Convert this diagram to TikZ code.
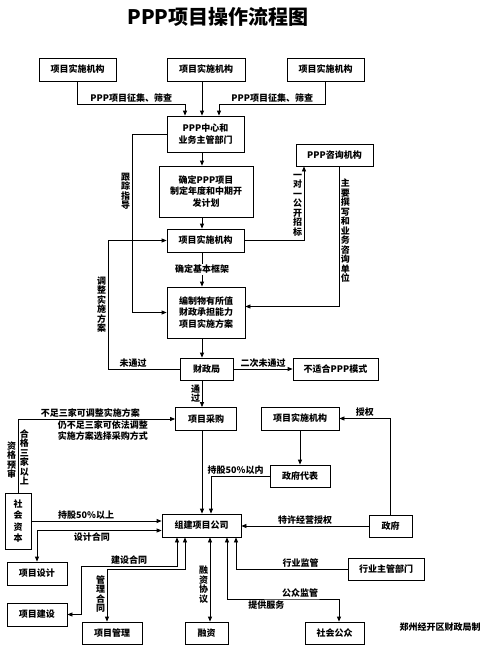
\documentclass[tikz,border=0pt]{standalone}
\usepackage{fontspec}
\usetikzlibrary{arrows.meta}
\newfontfamily\cjkfont{Noto Sans CJK SC}

\begin{document}
\begin{tikzpicture}[x=1pt,y=-1pt,line width=0.8pt,
  box/.style={draw,align=center,inner sep=1pt,font=\cjkfont\bfseries\fontsize{9}{11.5}\selectfont},
  lbl/.style={align=center,inner sep=1.5pt,font=\cjkfont\bfseries\fontsize{9}{11}\selectfont},
  vlbl/.style={align=center,inner sep=1.5pt,font=\cjkfont\bfseries\fontsize{9}{9.5}\selectfont},
  arr/.style={-{Triangle[length=5pt,width=4pt]}},
  darr/.style={{Triangle[length=5pt,width=4pt]}-{Triangle[length=5pt,width=4pt]}}]
\useasboundingbox (0,0) rectangle (500,646);
\node[font=\cjkfont\bfseries\fontsize{20}{24}\selectfont] (title) at (218,17) {PPP项目操作流程图};
\node[box,minimum width=77pt,minimum height=23pt] (top1) at (77.5,69.5) {项目实施机构};
\node[box,minimum width=78pt,minimum height=23pt] (top2) at (206,69.5) {项目实施机构};
\node[box,minimum width=77pt,minimum height=23pt] (top3) at (325.5,69.5) {项目实施机构};
\node[box,minimum width=77pt,minimum height=36pt] (center) at (205.5,134) {PPP中心和\\业务主管部门};
\node[box,minimum width=94pt,minimum height=51pt] (plan) at (206,191.5) {确定PPP项目\\制定年度和中期开\\发计划};
\node[box,minimum width=77pt,minimum height=22pt] (consult) at (334.5,155) {PPP咨询机构};
\node[box,minimum width=77pt,minimum height=23pt] (impl) at (205.5,240.5) {项目实施机构};
\node[box,minimum width=78pt,minimum height=51pt] (scheme) at (206,312.5) {编制物有所值\\财政承担能力\\项目实施方案};
\node[box,minimum width=53pt,minimum height=22pt] (finance) at (206.5,369) {财政局};
\node[box,minimum width=85pt,minimum height=22pt] (unfit) at (335.5,369) {不适合PPP模式};
\node[box,minimum width=61pt,minimum height=23pt] (purchase) at (206,419) {项目采购};
\node[box,minimum width=78pt,minimum height=23pt] (impl2) at (300,418.5) {项目实施机构};
\node[box,minimum width=60pt,minimum height=22pt] (govrep) at (300,476) {政府代表};
\node[box,minimum width=26pt,minimum height=56pt] (capital) at (18,521) {社\\会\\资\\本};
\node[box,minimum width=79pt,minimum height=23pt] (company) at (201.5,525.5) {组建项目公司};
\node[box,minimum width=43pt,minimum height=22pt] (gov) at (390.5,526) {政府};
\node[box,minimum width=60pt,minimum height=23pt] (design) at (37,573.5) {项目设计};
\node[box,minimum width=76pt,minimum height=22pt] (industry) at (386,569) {行业主管部门};
\node[box,minimum width=60pt,minimum height=23pt] (build) at (37,614.5) {项目建设};
\node[box,minimum width=60pt,minimum height=22pt] (manage) at (112,633) {项目管理};
\node[box,minimum width=43pt,minimum height=22pt] (fund) at (206.5,633) {融资};
\node[box,minimum width=59pt,minimum height=22pt] (public) at (334.5,633) {社会公众};
\node[lbl] (maker) at (440,627) {郑州经开区财政局制};
\coordinate (trunk) at (202,0);
\coordinate (trk) at (132,0);
\coordinate (adj) at (108,0);
\coordinate (fx) at (210,0);
\coordinate (k1) at (185,104);
\coordinate (k2) at (219,104);
\coordinate (bc) at (81,566);
\coordinate (mc) at (185,569);
\coordinate (pc) at (300,599);
\draw[arr] (top1.south) |- node[lbl,pos=0.75,above]{PPP项目征集、筛查} (k1) -- (k1 |- center.north);
\draw[arr] (top2.south -| trunk) -- (center.north -| trunk);
\draw[arr] (top3.south) |- node[lbl,pos=0.75,above]{PPP项目征集、筛查} (k2) -- (k2 |- center.north);
\draw[arr] (center.south -| trunk) -- (plan.north -| trunk);
\draw[arr] (plan.south -| trunk) -- (impl.north -| trunk);
\draw[arr] (impl.south -| trunk) -- node[lbl,fill=white]{确定基本框架} (scheme.north -| trunk);
\draw[arr] (scheme.south -| trunk) -- (finance.north -| trunk);
\draw[arr] (finance.south -| trunk) -- node[vlbl,left]{通\\过} (purchase.north -| trunk);
\draw[arr] (purchase.south -| trunk) -- (company.north -| trunk);
\draw[arr] (center.west) -- (center.west -| trk) -- node[vlbl,left,pos=0.32]{跟\\踪\\指\\导} (scheme.west -| trk) -- (scheme.west);
\draw[arr] (finance.west) -- node[lbl,above,pos=0.65]{未通过} (finance.west -| adj) -- node[vlbl,left]{调\\整\\实\\施\\方\\案} (impl.west -| adj) -- (impl.west);
\draw[arr] (impl.east) -| node[vlbl,left,pos=0.74]{一\\对\\一\\公\\开\\招\\标} ([xshift=-30.5pt]consult.south);
\draw[arr] ([xshift=4.5pt]consult.south) |- node[vlbl,right,pos=0.23]{主\\要\\撰\\写\\和\\业\\务\\咨\\询\\单\\位} ([yshift=6pt]scheme.east);
\draw[arr] (finance) -- node[lbl,above]{二次未通过} (unfit);
\draw[arr] (capital.north) |- node[vlbl,left,pos=0.22]{资\\格\\预\\审} node[vlbl,right,pos=0.24]{合\\格\\三\\家\\以\\上} node[lbl,above,pos=0.73]{不足三家可调整实施方案} node[lbl,below,pos=0.77]{仍不足三家可依法调整\\实施方案选择采购方式} (purchase.west);
\draw[arr] (capital.east) -- node[lbl,above,pos=0.42]{持股50\%以上} (capital.east -| company.west);
\draw[arr] (impl2) -- (govrep);
\draw[arr] (govrep.west) -| node[lbl,above,pos=0.29]{持股50\%以内} ([xshift=9.5pt]company.north);
\draw[arr] (gov.north) |- node[lbl,above,pos=0.75]{授权} (impl2.east);
\draw[arr] (gov.west) -- node[lbl,above]{特许经营授权} (gov.west -| company.east);
\draw[darr] (design.north) |- node[lbl,below,pos=0.72]{设计合同} ([yshift=-5pt]company.west);
\draw[darr] (build.east) -| (bc) -| node[lbl,above,pos=0.25]{建设合同} ([xshift=-24.5pt]company.south);
\draw[darr] ([xshift=-5pt]manage.north) |- node[vlbl,left,pos=0.26]{管\\理\\合\\同} (mc) -- (mc |- company.south);
\draw[darr] (company.south -| fx) -- node[vlbl,left,pos=0.56]{融\\资\\协\\议} (fund.north -| fx);
\draw[arr] (industry.west) -| node[lbl,above,pos=0.21]{行业监管} ([xshift=34.5pt]company.south);
\draw[darr] ([xshift=25.5pt]company.south) |- node[lbl,below,pos=0.77]{提供服务} (pc) node[lbl,above]{公众监管} -| ([xshift=4.5pt]public.north);
\end{tikzpicture}
\end{document}
